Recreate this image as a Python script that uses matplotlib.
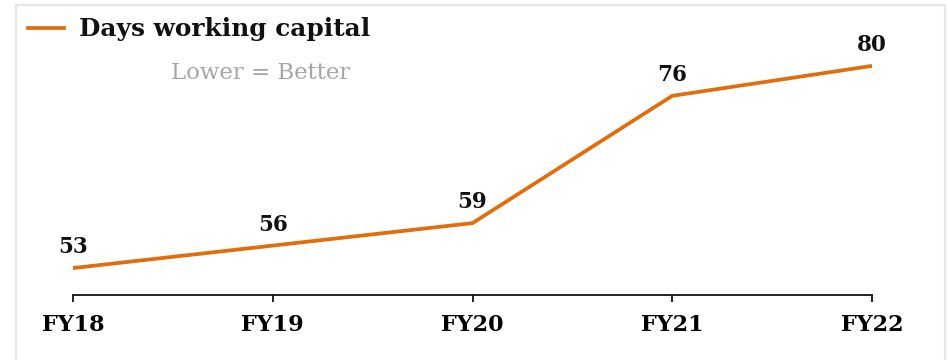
import matplotlib.pyplot as plt
from matplotlib.patches import Rectangle
from matplotlib.lines import Line2D

years = ["FY18", "FY19", "FY20", "FY21", "FY22"]
days_wc = [53, 56, 59, 76, 80]

ORANGE = "#e06e0c"
SERIF = ["DejaVu Serif"]


def main():
    fig = plt.figure(figsize=(9.48, 3.6), dpi=100)

    # light grey panel border
    fig.patches.append(Rectangle((16 / 948, -0.1), (945 - 16) / 948, 1.1 - 5 / 360,
                                 transform=fig.transFigure, fill=False,
                                 edgecolor="#e6e6e6", linewidth=1.5))

    ax = fig.add_axes([73 / 948, 65 / 360, (872 - 73) / 948, 295 / 360])
    x = range(len(years))
    ax.plot(x, days_wc, color=ORANGE, linewidth=2.7, solid_capstyle="butt")
    ax.set_xlim(0, len(years) - 1)
    ax.set_ylim(49.4, 88.8)

    for xi, v in zip(x, days_wc):
        ax.annotate(str(v), (xi, v), xytext=(0, 7), textcoords="offset points",
                    ha="center", va="bottom", fontsize=15.5, fontweight="bold",
                    family=SERIF, color="#111111")

    for side in ["top", "right", "left"]:
        ax.spines[side].set_visible(False)
    ax.spines["bottom"].set_linewidth(1.3)
    ax.spines["bottom"].set_color("#111111")
    ax.set_yticks([])
    ax.set_xticks(list(x))
    ax.set_xticklabels(years, fontsize=16, fontweight="bold", family=SERIF)
    ax.tick_params(axis="x", length=5, width=1.3, color="#111111", pad=9)

    # legend-style header
    fig.add_artist(Line2D([28 / 948, 64 / 948], [1 - 28 / 360, 1 - 28 / 360],
                          transform=fig.transFigure, color=ORANGE, linewidth=2.7))
    fig.text(79 / 948, 1 - 29 / 360, "Days working capital", ha="left", va="center",
             fontsize=17.8, fontweight="bold", family=SERIF, color="#111111")
    fig.text(171 / 948, 1 - 73 / 360, "Lower = Better", ha="left", va="center",
             fontsize=16.5, family=SERIF, color="#a6a6a6")

    plt.savefig("out.png", dpi=100)


if __name__ == "__main__":
    main()
